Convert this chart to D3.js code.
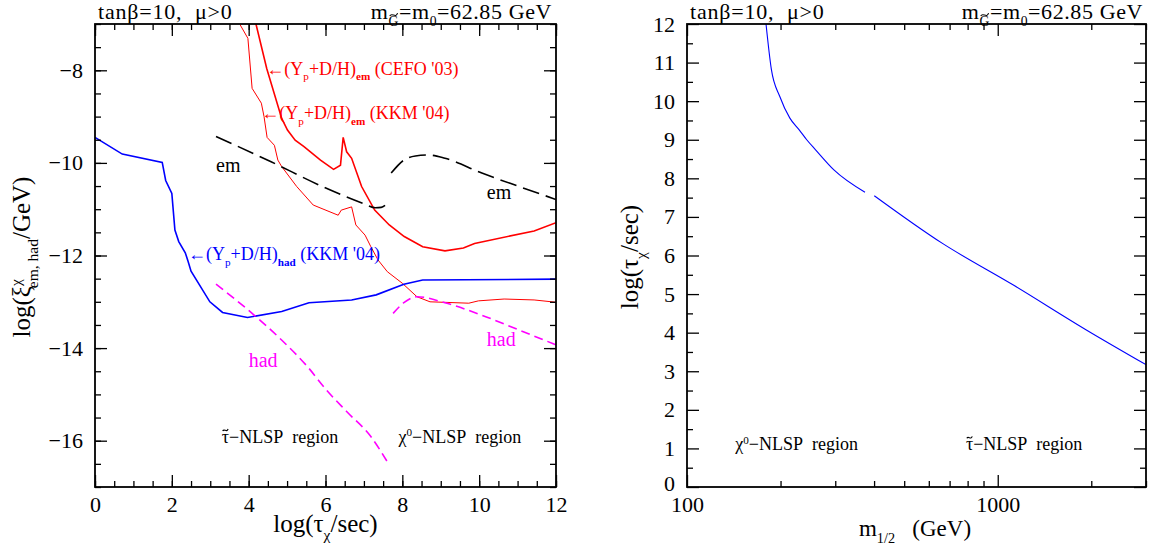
<!DOCTYPE html>
<html>
<head>
<meta charset="utf-8">
<script src="https://cdn.jsdelivr.net/npm/d3@7"></script>
<style>
  body { margin: 0; background: #fff; }
  text { font-family: "Liberation Serif", "DejaVu Serif", serif; }
</style>
</head>
<body>
<div id="chart"></div>
<script>
// ---- data ----
// left panel: x = log(tau/sec), y = log(xi/GeV)
var leftXTicks = [0, 2, 4, 6, 8, 10, 12];
var leftYTicks = [-8, -10, -12, -14, -16];

var hadKKM04 = [[0,-9.45],[0.71,-9.81],[1.75,-9.99],[1.84,-10.38],[2.0,-10.66],[2.08,-11.45],
  [2.18,-11.70],[2.35,-11.94],[2.42,-12.12],[2.50,-12.34],[2.99,-13.0],[3.32,-13.23],[3.97,-13.34],
  [4.86,-13.21],[5.57,-13.02],[6.68,-12.96],[7.32,-12.85],[8.04,-12.62],[8.53,-12.53],[12,-12.51]];

var emCEFO03 = [[4.19,-7.0],[4.47,-7.96],[4.86,-9.04],[5.01,-9.29],[5.21,-9.51],[5.44,-9.65],
  [5.87,-9.94],[6.21,-10.14],[6.39,-10.05],[6.46,-9.45],[6.55,-9.76],[6.68,-9.90],[6.94,-10.51],
  [7.28,-11.02],[7.66,-11.34],[8.05,-11.59],[8.53,-11.81],[9.11,-11.90],[9.59,-11.84],[9.88,-11.74],
  [11.43,-11.47],[12,-11.29]];

var emKKM04 = [[3.78,-7.02],[3.98,-7.31],[4.09,-8.39],[4.33,-8.71],[4.40,-9.0],[4.48,-9.45],
  [4.67,-9.62],[4.76,-9.94],[4.86,-10.08],[5.25,-10.51],[5.68,-10.91],[6.33,-11.13],[6.41,-11.02],
  [6.68,-10.95],[6.79,-11.34],[7.03,-11.56],[7.18,-11.81],[7.37,-12.10],[7.61,-12.35],[8.0,-12.60],
  [8.38,-12.89],[8.72,-13.0],[9.73,-13.03],[9.98,-12.98],[10.65,-12.94],[11.43,-12.96],[12,-13.01]];

var emYieldLow = [[3.15,-9.43],[4.57,-9.97],[5.92,-10.51],[7.0,-10.88],[7.3,-10.97],[7.45,-10.96],[7.56,-10.91]];
var emYieldHigh = [[7.71,-10.22],[8.04,-9.94],[8.34,-9.85],[8.67,-9.83],[9.11,-9.90],[10.07,-10.22],[11.04,-10.51],[12,-10.79]];

var hadYieldLow = [[3.15,-12.62],[4.09,-13.25],[4.85,-13.82],[5.53,-14.40],[6.02,-14.9],[6.55,-15.37],[7.18,-15.91],[7.62,-16.47]];
var hadYieldHigh = [[7.76,-13.25],[8.04,-13.02],[8.38,-12.89],[9.11,-13.02],[10.07,-13.29],[11.04,-13.61],[12,-13.93]];

// right panel: x = m_1/2 (GeV), y = log(tau/sec)
var rightXTicks = [100, 1000];
var rightXMinor = [200, 300, 400, 500, 600, 700, 800, 900, 2000, 3000];
var rightYTicks = [0, 1, 2, 3, 4, 5, 6, 7, 8, 9, 10, 11, 12];

var lifetimeLow = [[179.6,12],[186.8,10.83],[198.9,10.12],[214.3,9.56],[230,9.25],[242.8,9.0],
  [259.3,8.74],[297,8.22],[374,7.64]];
var lifetimeHigh = [[400.6,7.55],[662,6.32],[1130,5.22],[1928,4.07],[3000,3.17]];

// ---- svg ----
var width = 1149, height = 550;
var svg = d3.select("#chart").append("svg")
  .attr("width", width).attr("height", height);

var plotTop = 24, plotBottom = 487;

// helper for text with sub/superscripts
function richText(g, x, y, parts, size, color, anchor) {
  var t = g.append("text")
    .attr("x", x).attr("y", y)
    .attr("font-size", size + "px")
    .attr("fill", color || "#000")
    .attr("text-anchor", anchor || "start");
  var shift = 0;
  parts.forEach(function(p) {
    var s = p.sub ? size * 0.3 : (p.sup ? -size * 0.38 : 0);
    var span = t.append("tspan").attr("dy", s - shift).text(p.t);
    if (p.sub || p.sup) span.attr("font-size", (size * 0.62) + "px");
    if (p.bold) span.attr("font-weight", "bold");
    if (p.dx) span.attr("dx", p.dx);
    shift = s;
  });
  return t;
}

// small tilde drawn as a path over one character of a text
function tildeOver(g, textSel, charIndex, lift) {
  var box = textSel.node().getExtentOfChar(charIndex);
  var w = box.width * 0.75, cx = box.x + box.width / 2, cy = box.y + lift;
  var h = w * 0.18;
  g.append("path")
    .attr("d", "M" + (cx - w / 2) + "," + (cy + h) +
      " C" + (cx - w / 4) + "," + (cy - 2 * h) + " " + (cx + w / 4) + "," + (cy + 3 * h) + " " + (cx + w / 2) + "," + (cy - h))
    .attr("fill", "none").attr("stroke", "#000").attr("stroke-width", 1.1);
}

// draw ticks on all four sides of a panel, returns the labelled left axis
function frameAxes(g, x, y, xMajor, xMinor, yMajor, yMinor, xFmt, yFmt) {
  var x0 = x.range()[0], x1 = x.range()[1];
  var tickStyle = function(sel) {
    sel.select(".domain").remove();
    sel.selectAll("line").attr("stroke", "#000").attr("stroke-width", 1.3);
    sel.selectAll("text").attr("font-size", "22px").attr("font-family", "Liberation Serif, serif");
  };
  g.append("g").attr("transform", "translate(0," + plotBottom + ")")
    .call(d3.axisBottom(x).tickValues(xMajor).tickSize(-12).tickPadding(9).tickFormat(xFmt)).call(tickStyle);
  g.append("g").attr("transform", "translate(0," + plotBottom + ")")
    .call(d3.axisBottom(x).tickValues(xMinor).tickSize(-6).tickFormat("")).call(tickStyle);
  g.append("g").attr("transform", "translate(0," + plotTop + ")")
    .call(d3.axisTop(x).tickValues(xMajor).tickSize(-12).tickFormat("")).call(tickStyle);
  g.append("g").attr("transform", "translate(0," + plotTop + ")")
    .call(d3.axisTop(x).tickValues(xMinor).tickSize(-6).tickFormat("")).call(tickStyle);
  var yAxis = g.append("g").attr("transform", "translate(" + x0 + ",0)")
    .call(d3.axisLeft(y).tickValues(yMajor).tickSize(-12).tickPadding(12).tickFormat(yFmt)).call(tickStyle);
  g.append("g").attr("transform", "translate(" + x0 + ",0)")
    .call(d3.axisLeft(y).tickValues(yMinor).tickSize(-6).tickFormat("")).call(tickStyle);
  g.append("g").attr("transform", "translate(" + x1 + ",0)")
    .call(d3.axisRight(y).tickValues(yMajor).tickSize(-12).tickFormat("")).call(tickStyle);
  g.append("g").attr("transform", "translate(" + x1 + ",0)")
    .call(d3.axisRight(y).tickValues(yMinor).tickSize(-6).tickFormat("")).call(tickStyle);

  g.append("rect")
    .attr("x", x0).attr("y", plotTop)
    .attr("width", x1 - x0).attr("height", plotBottom - plotTop)
    .attr("fill", "none").attr("stroke", "#000").attr("stroke-width", 1.8);
  return yAxis;
}

var stau = [{t: "\u03C4\u2212NLSP\u00A0 region"}];
var gravTitle = [{t: "m"}, {t: "G", sub: true}, {t: "=m"}, {t: "0", sub: true}, {t: "=62.85 GeV"}];

// ================= left panel =================
var xL = d3.scaleLinear().domain([0, 12]).range([95, 556]);
var yL = d3.scaleLinear().domain([-17, -7]).range([plotBottom, plotTop]);
var left = svg.append("g");

left.append("clipPath").attr("id", "clipL").append("rect")
  .attr("x", 95).attr("y", plotTop).attr("width", 461).attr("height", plotBottom - plotTop);
var plotL = left.append("g").attr("clip-path", "url(#clipL)");

var lineL = d3.line().x(function(d) { return xL(d[0]); }).y(function(d) { return yL(d[1]); });
var smoothL = d3.line().curve(d3.curveMonotoneX)
  .x(function(d) { return xL(d[0]); }).y(function(d) { return yL(d[1]); });

plotL.append("path").datum(emKKM04).attr("d", lineL)
  .attr("fill", "none").attr("stroke", "#ff0000").attr("stroke-width", 1);
plotL.append("path").datum(emCEFO03).attr("d", lineL)
  .attr("fill", "none").attr("stroke", "#ff0000").attr("stroke-width", 1.6);
plotL.append("path").datum(hadKKM04).attr("d", lineL)
  .attr("fill", "none").attr("stroke", "#0000ff").attr("stroke-width", 1.6);

[emYieldLow, emYieldHigh].forEach(function(s) {
  plotL.append("path").datum(s).attr("d", smoothL)
    .attr("fill", "none").attr("stroke", "#000").attr("stroke-width", 1.6)
    .attr("stroke-dasharray", "17,7");
});
[hadYieldLow, hadYieldHigh].forEach(function(s) {
  plotL.append("path").datum(s).attr("d", smoothL)
    .attr("fill", "none").attr("stroke", "#ff00ff").attr("stroke-width", 1.6)
    .attr("stroke-dasharray", "9,5");
});

var fmtL = function(d) { return d3.format("d")(d).replace("-", "\u2212"); };
frameAxes(left, xL, yL, leftXTicks, d3.range(0, 12.01, 0.5), leftYTicks, d3.range(-17, -6.99, 0.5), d3.format("d"), fmtL);

// annotations
richText(left, xL(4.46), yL(-8.1), [{t: "\u2190(Y"}, {t: "p", sub: true}, {t: "+D/H)"}, {t: "em", sub: true, bold: true}, {t: "\u00A0(CEFO '03)"}], 18, "#ff0000");
richText(left, xL(4.33), yL(-9.06), [{t: "\u2190(Y"}, {t: "p", sub: true}, {t: "+D/H)"}, {t: "em", sub: true, bold: true}, {t: "\u00A0(KKM '04)"}], 18, "#ff0000");
richText(left, xL(2.42), yL(-12.1), [{t: "\u2190(Y"}, {t: "p", sub: true}, {t: "+D/H)"}, {t: "had", sub: true, bold: true}, {t: "\u00A0(KKM '04)"}], 18, "#0000ff");

left.append("text").attr("x", xL(3.15)).attr("y", yL(-10.2)).attr("font-size", "20px").text("em");
left.append("text").attr("x", xL(10.2)).attr("y", yL(-10.78)).attr("font-size", "20px").text("em");
left.append("text").attr("x", xL(4.0)).attr("y", yL(-14.4)).attr("font-size", "20px").attr("fill", "#ff00ff").text("had");
left.append("text").attr("x", xL(10.2)).attr("y", yL(-13.95)).attr("font-size", "20px").attr("fill", "#ff00ff").text("had");

var stauL = richText(left, xL(3.3), yL(-16.05), stau, 18, "#000");
tildeOver(left, stauL, 0, 3);
richText(left, xL(7.9), yL(-16.05), [{t: "\u03C7"}, {t: "0", sup: true}, {t: "\u2212NLSP\u00A0 region"}], 18, "#000");

// titles
richText(left, 98, 19, [{t: "tan\u03B2=10,\u00A0 \u03BC>0"}], 22, "#000").attr("letter-spacing", 0.8);
var gravL = richText(left, 552, 19, gravTitle, 22, "#000", "end").attr("letter-spacing", 0.6);
tildeOver(left, gravL, 1, 1);

// axis labels
richText(left, xL(6), 532, [{t: "log(\u03C4"}, {t: "\u03C7", sub: true}, {t: "/sec)"}], 25, "#000", "middle");
var yLab = left.append("g").attr("transform", "translate(30,257) rotate(-90)");
richText(yLab, 0, 0, [{t: "log(\u03BE"}, {t: "\u03C7", sup: true}, {t: "em, had", sub: true, dx: -9}, {t: "/GeV)"}], 25, "#000", "middle");

// ================= right panel =================
var xR = d3.scaleLog().domain([100, 3000]).range([687, 1146]);
var yR = d3.scaleLinear().domain([0, 12]).range([plotBottom, plotTop]);
var right = svg.append("g");

right.append("clipPath").attr("id", "clipR").append("rect")
  .attr("x", 687).attr("y", plotTop).attr("width", 459).attr("height", plotBottom - plotTop);
var plotR = right.append("g").attr("clip-path", "url(#clipR)");

var lineR = d3.line().curve(d3.curveMonotoneX)
  .x(function(d) { return xR(d[0]); }).y(function(d) { return yR(d[1]); });

[lifetimeLow, lifetimeHigh].forEach(function(s) {
  plotR.append("path").datum(s).attr("d", lineR)
    .attr("fill", "none").attr("stroke", "#0000ff").attr("stroke-width", 1.1);
});

var yAxisR = frameAxes(right, xR, yR, rightXTicks, rightXMinor, rightYTicks, d3.range(0.5, 12, 1), d3.format("d"), d3.format("d"));
// nudge the "0" label up a little so it clears the "100" below it
yAxisR.selectAll(".tick").filter(function(d) { return d === 0; }).select("text").attr("dy", "0.15em");

richText(right, xR(143), yR(0.95), [{t: "\u03C7"}, {t: "0", sup: true}, {t: "\u2212NLSP\u00A0 region"}], 18, "#000");
var stauR = richText(right, xR(790), yR(0.95), stau, 18, "#000");
tildeOver(right, stauR, 0, 3);

richText(right, 690, 19, [{t: "tan\u03B2=10,\u00A0 \u03BC>0"}], 22, "#000").attr("letter-spacing", 0.8);
var gravR = richText(right, 1143, 19, gravTitle, 22, "#000", "end").attr("letter-spacing", 0.6);
tildeOver(right, gravR, 1, 1);

richText(right, 915, 536, [{t: "m"}, {t: "1/2", sub: true}, {t: "\u00A0\u00A0\u00A0(GeV)"}], 23, "#000", "middle");
var yLabR = right.append("g").attr("transform", "translate(638,257) rotate(-90)");
richText(yLabR, 0, 0, [{t: "log(\u03C4"}, {t: "\u03C7", sub: true}, {t: "/sec)"}], 25, "#000", "middle");
</script>
</body>
</html>
